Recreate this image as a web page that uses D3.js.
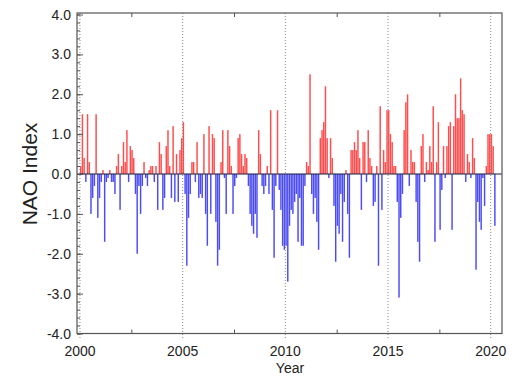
<!DOCTYPE html>
<html>
<head>
<meta charset="utf-8">
<script src="https://cdn.jsdelivr.net/npm/d3@7"></script>
<style>
  html, body { margin: 0; padding: 0; background: #fff; }
  svg { display: block; font-family: "Liberation Sans", Arial, sans-serif; }
</style>
</head>
<body>
<script>
// monthly NAO index, one array per year (Jan..Dec)
const NAO_2000 = [0.2, 1.5, 0.4, -0.2, 1.5, 0.3, -1.0, -0.6, -0.3, 1.5, -1.1, -0.6];
const NAO_2001 = [-0.2, 0.1, -1.7, -0.2, -0.1, 0.1, -0.2, -0.2, -0.5, 0.2, 0.5, -0.9];
const NAO_2002 = [0.2, 0.8, 0.3, 1.1, -0.2, 0.7, 0.6, 0.4, -0.5, -2.0, -0.3, -1.0];
const NAO_2003 = [-0.3, 0.3, -0.1, -0.3, 0.1, 0.2, 0.2, -0.2, 0.2, -0.9, 0.8, 0.5];
const NAO_2004 = [-0.9, -0.6, 0.7, 1.1, 0.2, -0.6, 1.2, -0.7, 0.5, -0.7, 0.6, 0.9];
const NAO_2005 = [1.3, -0.5, -2.3, -1.1, -0.5, 0.3, 0.3, -0.2, 0.8, -0.6, -0.5, -0.6];
const NAO_2006 = [1.0, -1.0, -1.8, 1.2, -1.0, 1.0, 0.9, -1.2, -2.3, -1.9, 0.3, 1.1];
const NAO_2007 = [-0.1, -1.0, 1.1, 0.7, 0.2, -1.0, -0.3, -0.1, 0.9, 1.0, 0.5, 0.2];
const NAO_2008 = [0.5, 0.4, -0.3, -1.0, -1.3, -1.5, -1.0, -1.6, 1.1, 0.5, -0.3, -0.5];
const NAO_2009 = [-0.3, 0.2, -0.5, 1.6, -0.9, -2.1, -0.3, 1.6, -0.4, -0.9, -1.8, -1.9];
const NAO_2010 = [-1.8, -2.7, -1.3, -0.9, -1.0, -0.7, -0.5, -1.7, -0.6, -1.8, -1.8, -0.3];
const NAO_2011 = [0.3, 0.2, 2.5, -0.5, -1.0, -0.6, -1.2, -1.9, 0.9, 1.1, 1.3, 2.2];
const NAO_2012 = [0.9, -0.1, 0.9, 0.4, -0.8, -2.2, -1.3, -1.5, -0.5, -1.7, -0.7, 0.1];
const NAO_2013 = [-1.0, -2.1, 0.6, 0.6, 0.8, 0.6, 1.1, 0.4, -0.9, 0.8, 0.8, -0.2];
const NAO_2014 = [1.1, 0.4, 0.2, -0.8, -0.7, 0.2, -2.3, 1.7, -0.9, 0.6, 0.3, 1.6];
const NAO_2015 = [1.6, 1.0, 0.8, 0.2, 0.2, -0.7, -3.1, -1.1, -0.5, 1.1, 1.8, 2.0];
const NAO_2016 = [-0.3, 0.6, 0.3, 0.3, -0.7, -1.7, -2.2, 0.7, 1.0, -0.2, 0.3, 0.1];
const NAO_2017 = [0.7, 0.3, 1.7, -1.7, 0.3, 1.3, -1.4, -0.4, 0.7, -0.1, 0.7, 1.2];
const NAO_2018 = [1.3, -1.4, 1.2, 2.0, 1.4, 1.4, 2.4, 1.6, 1.5, -0.2, 0.5, 0.3];
const NAO_2019 = [-0.1, 0.9, 0.4, -2.4, -0.7, -1.2, -1.4, -0.1, -0.8, 0.2, 1.0, 1.0];
const NAO_2020 = [1.0, 0.7, -1.3];

const YEAR_TICKS = [2000, 2005, 2010, 2015, 2020];
const Y_TICKS = [-4, -3, -2, -1, 0, 1, 2, 3, 4];

const W = 514, H = 387;
const M = {left: 77, right: 502, top: 13, bottom: 333.5};

const series = [NAO_2000, NAO_2001, NAO_2002, NAO_2003, NAO_2004, NAO_2005, NAO_2006,
  NAO_2007, NAO_2008, NAO_2009, NAO_2010, NAO_2011, NAO_2012, NAO_2013, NAO_2014,
  NAO_2015, NAO_2016, NAO_2017, NAO_2018, NAO_2019, NAO_2020].flat();

const months = series.map((v, i) => ({t: 2000 + i / 12, v}));

const x = d3.scaleLinear().domain([1999.855, 2020.55]).range([M.left, M.right]);
const y = d3.scaleLinear().domain([-4, 4]).range([M.bottom, 14.5]);

const svg = d3.select("body").append("svg")
    .attr("width", W)
    .attr("height", H);

// bars
svg.append("g").selectAll("rect")
    .data(months).enter()
  .append("rect")
    .attr("x", d => x(d.t))
    .attr("width", d => x(d.t + 1 / 12) - x(d.t) - 0.25)
    .attr("y", d => d.v >= 0 ? y(d.v) : y(0))
    .attr("height", d => Math.abs(y(d.v) - y(0)))
    .attr("fill", d => d.v >= 0 ? "#ff4c4c" : "#4c4cf5");

// zero line
svg.append("line")
    .attr("x1", M.left).attr("x2", M.right)
    .attr("y1", y(0)).attr("y2", y(0))
    .attr("stroke", "#1a1a40")
    .attr("stroke-width", 1.2);

// dotted year lines
svg.append("g").selectAll("line")
    .data(YEAR_TICKS).enter()
  .append("line")
    .attr("x1", d => x(d)).attr("x2", d => x(d))
    .attr("y1", M.top).attr("y2", M.bottom + 6)
    .attr("stroke", "#888")
    .attr("stroke-width", 1)
    .attr("stroke-dasharray", "1,2");

// frame
svg.append("rect")
    .attr("x", M.left).attr("y", M.top)
    .attr("width", M.right - M.left).attr("height", M.bottom - M.top)
    .attr("fill", "none")
    .attr("stroke", "#555")
    .attr("stroke-width", 1.2);

// y axis: inward ticks
const yAxis = d3.axisRight(y).tickValues(Y_TICKS).tickSize(6).tickFormat("");
const yMinor = d3.axisRight(y).tickValues(d3.range(-4, 4.01, 0.2)).tickSize(3).tickFormat("");
[yAxis, yMinor].forEach(ax => {
  const g = svg.append("g").attr("transform", `translate(${M.left},0)`).call(ax);
  g.select(".domain").remove();
  g.selectAll("line").attr("stroke", "#555");
});

svg.append("g").selectAll("text")
    .data(Y_TICKS).enter()
  .append("text")
    .attr("x", 71)
    .attr("y", d => y(d))
    .attr("dy", "0.36em")
    .attr("text-anchor", "end")
    .attr("font-size", 14)
    .attr("fill", "#222")
    .text(d => d.toFixed(1));

// x axis: inward ticks on bottom and top
const xMinor = [2002.5, 2007.5, 2012.5, 2017.5];
[[M.bottom, d3.axisTop], [M.top, d3.axisBottom]].forEach(([yy, axFn]) => {
  const g = svg.append("g").attr("transform", `translate(0,${yy})`)
      .call(axFn(x).tickValues(xMinor).tickSize(4).tickFormat(""));
  g.select(".domain").remove();
  g.selectAll("line").attr("stroke", "#555");
});

svg.append("g").selectAll("text")
    .data(YEAR_TICKS).enter()
  .append("text")
    .attr("x", d => x(d))
    .attr("y", 356)
    .attr("text-anchor", "middle")
    .attr("font-size", 14)
    .attr("fill", "#222")
    .text(d => d);

svg.append("text")
    .attr("x", 290)
    .attr("y", 373)
    .attr("text-anchor", "middle")
    .attr("font-size", 14)
    .attr("fill", "#222")
    .text("Year");

svg.append("text")
    .attr("transform", `translate(37,${y(0)}) rotate(-90)`)
    .attr("text-anchor", "middle")
    .attr("font-size", 21)
    .attr("fill", "#222")
    .text("NAO Index");
</script>
</body>
</html>
